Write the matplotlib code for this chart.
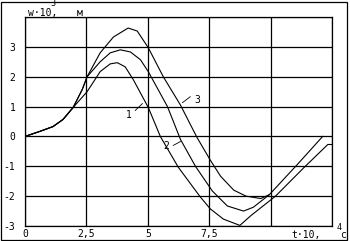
import matplotlib
matplotlib.use("Agg")
import matplotlib.pyplot as plt
from matplotlib.patches import Rectangle

# curve 1
t1 = [0, 0.61, 1.14, 1.55, 1.96, 2.53, 3.06, 3.47, 3.76, 4.08, 4.41, 5.02, 5.51, 6.24,
      7.14, 7.55, 8.08, 8.75, 9.2, 10.2, 11.35, 12.33, 12.5]
w1 = [0, 0.17, 0.33, 0.57, 0.97, 1.5, 2.17, 2.43, 2.47, 2.33, 1.9, 0.97, 0.0, -1.03,
      -2.03, -2.43, -2.77, -2.98, -2.65, -2.0, -1.05, -0.27, -0.27]

# curve 2
t2 = [0, 0.61, 1.14, 1.55, 1.96, 2.33, 2.53, 3.06, 3.47, 3.88, 4.29, 4.7, 5.02, 5.2, 5.8,
      6.33, 6.94, 7.63, 8.24, 8.9, 9.3, 9.95, 11.1, 12.12]
w2 = [0, 0.17, 0.33, 0.57, 0.97, 1.57, 2.0, 2.5, 2.8, 2.9, 2.83, 2.57, 2.17, 1.9, 1.0,
      -0.1, -1.0, -1.83, -2.33, -2.5, -2.37, -1.95, -0.93, 0.0]

# curve 3
t3 = [0, 0.61, 1.14, 1.55, 1.96, 2.33, 2.53, 3.06, 3.6, 4.2, 4.57, 5.02, 5.63, 6.33,
      7.0, 7.55, 7.96, 8.5, 9.0, 9.6, 9.95]
w3 = [0, 0.17, 0.33, 0.57, 0.97, 1.57, 2.0, 2.8, 3.33, 3.63, 3.53, 2.97, 2.0, 1.05,
      -0.03, -0.8, -1.33, -1.8, -2.0, -2.08, -1.95]

x_ticks = [0, 2.5, 5, 7.5, 10, 12.5]
x_labels = ["0", "2,5", "5", "7,5", "", ""]
y_ticks = [-3, -2, -1, 0, 1, 2, 3, 4]
y_labels = ["-3", "-2", "-1", "0", "1", "2", "3", ""]

W, H = 350, 241
fig = plt.figure(figsize=(W / 100, H / 100), dpi=100)
ax = fig.add_axes([25 / W, 1 - 226 / H, 307 / W, 209 / H])

for t, w in [(t1, w1), (t2, w2), (t3, w3)]:
    ax.plot(t, w, color="black", lw=0.8)

ax.set_xlim(0, 12.5)
ax.set_ylim(-3, 4)
ax.set_xticks(x_ticks)
ax.set_xticklabels(x_labels)
ax.set_yticks(y_ticks)
ax.set_yticklabels(y_labels)
ax.grid(True, color="black", lw=0.9)
ax.tick_params(length=0, labelsize=7, pad=2)
ax.tick_params(axis="y", pad=7)
for lab in ax.get_xticklabels() + ax.get_yticklabels():
    lab.set_family("DejaVu Sans Mono")
for s in ax.spines.values():
    s.set_linewidth(0.9)

# curve labels with leader lines
ax.text(4.24, 0.73, "1", fontsize=7, family="DejaVu Sans Mono", ha="center", va="center")
ax.plot([4.49, 4.78], [0.87, 1.1], color="black", lw=0.6)
ax.text(5.76, -0.33, "2", fontsize=7, family="DejaVu Sans Mono", ha="center", va="center")
ax.plot([6.04, 6.33], [-0.3, -0.17], color="black", lw=0.6)
ax.text(7.02, 1.23, "3", fontsize=7, family="DejaVu Sans Mono", ha="center", va="center")
ax.plot([6.41, 6.73], [1.13, 1.33], color="black", lw=0.6)


def ftext(x, y, s, size=7, **kw):
    fig.text(x / W, 1 - y / H, s, fontsize=size, family="DejaVu Sans Mono",
             va="center", **kw)


# axis captions
ftext(28, 13, "w·10,", ha="left")
ftext(53, 4, "3", size=6, ha="center")
ftext(77, 13, "м", ha="left")
ftext(291, 235, "t·10,", ha="left")
ftext(339, 227, "4", size=6, ha="center")
ftext(343, 235, "c", ha="center")

# outer frame
fig.patches.append(Rectangle((1 / W, 1 / H), 346 / W, 238 / H, transform=fig.transFigure,
                             fill=False, edgecolor="black", lw=0.9))

fig.savefig("out.png", dpi=100)
